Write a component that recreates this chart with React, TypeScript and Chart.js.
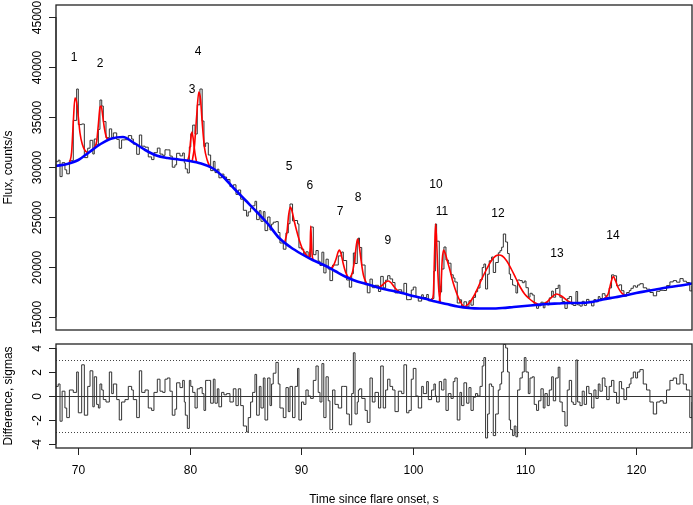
import React, { useEffect, useRef } from 'react';
import { Chart, registerables } from 'chart.js';

Chart.register(...registerables);

// ---- Observed light curve (time, flux) and normalised residuals ----
const obsTime = [
  68.0, 68.2, 68.36, 68.55, 68.8, 68.96, 69.2, 69.55, 69.85, 70.0, 70.3, 70.54, 70.84, 71.05, 71.3, 71.43, 71.64, 71.8, 71.94, 72.1,
  72.24, 72.48, 72.78, 72.99, 73.14, 73.44, 73.67, 73.88, 74.18, 74.48, 74.78, 74.93, 75.23, 75.47, 75.68, 75.98, 76.27, 76.57, 76.78, 77.08,
  77.32, 77.56, 77.77, 77.98, 78.21, 78.42, 78.66, 78.81, 79.11, 79.35, 79.5, 79.59, 79.77, 79.95, 80.08, 80.25, 80.46, 80.66, 80.9, 81.1,
  81.26, 81.41, 81.65, 81.86, 82.1, 82.25, 82.46, 82.6, 82.84, 83.05, 83.29, 83.59, 83.89, 84.13, 84.34, 84.55, 84.79, 85.08, 85.23, 85.44,
  85.62, 85.83, 85.98, 86.22, 86.37, 86.58, 86.73, 86.97, 87.18, 87.32, 87.47, 87.71, 87.92, 88.07, 88.37, 88.61, 88.82, 88.97, 89.2, 89.42,
  89.65, 89.77, 90.0, 90.2, 90.4, 90.6, 90.82, 91.06, 91.3, 91.5, 91.66, 91.83, 92.0, 92.2, 92.4, 92.55, 92.79, 93.0, 93.3, 93.6,
  93.75, 94.05, 94.29, 94.5, 94.65, 94.8, 95.0, 95.1, 95.2, 95.4, 95.7, 95.9, 96.14, 96.35, 96.59, 96.9, 97.1, 97.33, 97.54, 97.72,
  97.93, 98.17, 98.38, 98.68, 98.98, 99.18, 99.42, 99.63, 99.84, 100.02, 100.26, 100.47, 100.77, 100.92, 101.22, 101.37, 101.66, 101.87, 102.0, 102.11,
  102.35, 102.56, 102.77, 102.95, 103.16, 103.4, 103.6, 103.75, 103.96, 104.2, 104.35, 104.56, 104.8, 105.01, 105.19, 105.4, 105.6, 105.79, 106.0, 106.2,
  106.35, 106.5, 106.68, 106.83, 107.04, 107.19, 107.4, 107.64, 107.79, 107.94, 108.09, 108.3, 108.47, 108.62, 108.74, 108.92, 109.07, 109.22, 109.37, 109.58,
  109.79, 109.97, 110.12, 110.33, 110.48, 110.68, 110.86, 111.07, 111.25, 111.46, 111.67, 111.82, 112.03, 112.21, 112.42, 112.57, 112.78, 113.01, 113.16, 113.37,
  113.61, 113.82, 114.0, 114.21, 114.36, 114.6, 114.75, 114.96, 115.16, 115.34, 115.55, 115.76, 116.0, 116.21, 116.39, 116.6, 116.75, 116.96, 117.2, 117.35,
  117.58, 117.79, 118.0, 118.24, 118.48, 118.69, 118.9, 119.14, 119.38, 119.53, 119.74, 119.95, 120.12, 120.33, 120.63, 120.93, 121.23, 121.53, 121.83, 122.13,
  122.42, 122.72, 123.02, 123.32, 123.62, 123.92, 124.21, 124.5, 124.8, 125.0,
];

const obsFlux = [
  30530, 30680, 29040, 30430, 29720, 29320, 30630, 34660, 37800, 34240, 34300, 30940, 31880, 32670, 31300, 32800, 32220, 33760, 36700, 36100,
  34540, 32930, 33810, 32960, 33410, 32760, 31870, 32710, 32730, 33140, 32800, 32280, 31270, 33200, 32080, 31980, 31010, 30740, 31430, 31890,
  31290, 31170, 31720, 31710, 31090, 29980, 30210, 31370, 31110, 31400, 30410, 29810, 29400, 32010, 33330, 34190, 33300, 36220, 37800, 34600,
  32050, 32400, 31200, 29640, 30560, 29440, 29780, 28920, 29290, 29000, 28750, 28040, 28220, 27260, 27700, 26780, 25670, 25090, 25510, 25920,
  26120, 26570, 24740, 25630, 24570, 25540, 23640, 25000, 23700, 24290, 24480, 24540, 23450, 22400, 21780, 23410, 24330, 26300, 24610, 24650,
  24310, 21920, 21780, 21290, 21520, 21000, 24000, 21230, 21650, 20580, 20150, 21480, 19410, 20780, 19790, 18640, 20200, 20200, 21110, 21500,
  20650, 18700, 17980, 19330, 21400, 20350, 22500, 22900, 21950, 20200, 18230, 17420, 18790, 17930, 18170, 17550, 19060, 17910, 18680, 19130,
  18810, 18450, 17410, 17720, 17480, 18360, 16730, 16740, 17700, 17990, 17030, 16590, 17220, 16950, 17250, 16620, 16850, 19600, 24300, 22580,
  17500, 19800, 22000, 20700, 20380, 19220, 18900, 18500, 16400, 16720, 16040, 16520, 16020, 16620, 16180, 16960, 17530, 17900, 18730, 19950,
  20300, 17800, 19280, 20620, 21000, 19450, 20450, 21420, 21630, 21980, 23300, 22500, 21350, 19300, 18750, 18200, 18130, 17400, 18700, 18640,
  18430, 18600, 17930, 16980, 17370, 17200, 16180, 15870, 16120, 16480, 15920, 16460, 16210, 16910, 17590, 16980, 17850, 18180, 16980, 16550,
  15860, 16840, 17050, 16270, 16150, 17550, 16210, 16090, 16570, 16160, 16760, 16560, 16110, 16740, 16520, 17040, 16850, 17330, 17110, 16930,
  17910, 19210, 19120, 18120, 18220, 17630, 17080, 17450, 17640, 17870, 18120, 17980, 18200, 18330, 17920, 17780, 17450, 17120, 17570, 17670,
  17650, 18140, 18510, 18640, 18480, 18840, 18580, 18450, 17610, 18150,
];

const residSigma = [
  0.8, 1.0, -2.1, 0.4, -1.0, -1.8, 0.5, 0.3, 2.0, -1.4, 2.6, -1.6, 0.8, 2.1, -0.9, 1.6, -0.7, -1.0, 1.0, 0.5,
  -0.3, -0.5, 2.0, 0.2, 1.0, -0.3, -2.0, -0.5, -0.3, 0.8, 0.5, -0.3, -1.8, 2.1, 0.3, 0.5, -1.0, -1.2, 0.3, 1.4,
  0.4, 0.3, 1.4, 1.5, 0.4, -1.6, -1.1, 1.1, 0.7, 1.3, -0.5, -1.6, -2.7, 1.3, 0.8, 0.3, -1.0, 0.6, 0.7, 0.2,
  -1.2, 1.3, 1.3, -0.6, 1.4, -0.6, 0.6, -0.9, 0.3, 0.1, 0.2, -0.5, 0.6, -0.8, 0.6, -0.8, -2.5, -3.0, -1.8, -0.5,
  0.3, 1.8, -1.6, 0.8, -1.0, 1.5, -2.0, 1.5, -0.8, 1.0, 1.9, 2.8, 1.0, -1.0, -1.8, 0.7, -1.3, 0.8, -1.8, 0.8,
  2.3, -2.0, -0.5, -0.7, 0.5, 0.0, -0.2, 1.3, 2.5, 0.3, -0.5, 2.7, -1.8, 1.6, -0.4, -2.8, 0.5, -0.7, -1.0, 0.8,
  0.8, -1.5, -2.4, 0.2, 3.6, -1.5, -0.5, 0.5, 0.6, -0.2, -1.2, -2.2, 1.5, -0.5, 0.3, -1.0, 2.5, -1.0, 0.5, 1.4,
  0.8, 0.5, -1.3, 0.4, 0.2, 2.6, -1.4, -1.2, 1.4, 2.3, 0.0, -1.0, 0.8, 0.2, 1.2, -0.3, 0.5, 1.0, 0.0, -0.5,
  1.2, 0.5, 1.4, -1.2, 0.2, -0.2, 1.2, 1.5, -2.0, 0.3, -0.8, 1.1, -0.6, 0.7, -1.2, -0.1, 0.2, 0.0, 0.8, 2.5,
  3.2, -3.5, -1.5, 1.0, 0.8, -3.3, -1.5, 0.5, 1.0, 2.0, 4.3, 4.0, 2.0, -2.0, -2.8, -3.3, -2.5, -3.4, 0.5, 1.5,
  2.0, 3.2, 2.0, 0.2, 1.5, 1.6, -0.7, -1.2, -0.4, 0.6, -1.0, 0.2, -0.8, 0.5, 1.6, -0.4, 1.5, 2.4, -0.5, -1.3,
  -2.5, 0.5, 1.3, -0.5, -0.7, 3.0, -0.5, -0.8, 0.4, -0.7, 0.8, 0.2, -1.0, 0.5, -0.2, 1.0, 0.4, 1.5, 0.8, -0.3,
  0.8, 1.3, 0.3, -0.6, 1.2, 0.6, -0.3, 0.7, 1.0, 1.5, 2.0, 1.5, 2.0, 2.2, 1.0, 0.5, -0.5, -1.5, -0.5, -0.4,
  -0.6, 0.5, 1.3, 1.5, 1.0, 1.8, 1.0, 0.5, -1.8, -0.5,
];

// ---- Smooth background (blue) ----
const bgTime = [
  68, 69, 70, 71, 72, 73, 74, 75, 76, 77, 78, 79, 80, 81, 82, 83, 84, 85, 86, 87, 88, 89, 90, 91, 92, 93, 94, 95, 96,
  97, 98, 99, 100, 101, 102, 103, 104, 105, 106, 107, 108, 109, 110, 111, 112, 113, 114, 115, 116, 117, 118, 119, 120, 121, 122, 123, 124, 125,
];
const bgFlux = [
  30100, 30300, 30700, 31500, 32300, 32850, 33000, 32400, 31700, 31150, 30900, 30750, 30600, 30350, 29900, 29000, 27800, 26650, 25500, 24300, 22900, 22000, 21300, 20700, 20200, 19600, 19000, 18550, 18250,
  17900, 17650, 17400, 17100, 16850, 16550, 16300, 16050, 15900, 15850, 15850, 15900, 16000, 16100, 16200, 16300, 16350, 16400, 16400, 16500, 16750, 16950, 17150, 17400, 17600, 17800, 18000, 18150, 18350,
];

// ---- Individual peak fits (red), background + one component each ----
const peakFitTime = [
  [69.2, 69.4, 69.55, 69.7, 69.85, 70.0, 70.15, 70.35, 70.6, 70.85],
  [71.4, 71.65, 71.8, 71.95, 72.05, 72.2, 72.35, 72.55, 72.8],
  [79.8, 79.95, 80.08, 80.18, 80.3, 80.45, 80.6],
  [80.2, 80.4, 80.6, 80.8, 80.95, 81.1, 81.3, 81.55, 81.8],
  [88.5, 88.7, 88.85, 89.0, 89.15, 89.35, 89.55, 89.8, 90.05, 90.3, 90.6],
  [90.7, 90.78, 90.83, 90.88, 90.95, 91.05],
  [92.6, 92.85, 93.1, 93.3, 93.4, 93.55, 93.75, 93.95, 94.2],
  [94.3, 94.55, 94.75, 94.92, 95.03, 95.15, 95.35, 95.55, 95.85],
  [96.9, 97.2, 97.5, 97.78, 98.05, 98.35, 98.7, 99.0],
  [101.65, 101.82, 101.93, 102.02, 102.1, 102.2, 102.32, 102.45],
  [102.35, 102.5, 102.62, 102.74, 102.9, 103.1, 103.3, 103.6, 103.9, 104.2, 104.5, 104.8],
  [104.6, 105.0, 105.4, 105.8, 106.2, 106.6, 107.0, 107.4, 107.7, 108.0, 108.4, 108.8, 109.2, 109.6, 110.0, 110.4, 110.8, 111.2],
  [111.6, 112.0, 112.4, 112.85, 113.3, 113.7, 114.1, 114.5],
  [117.0, 117.25, 117.5, 117.75, 117.95, 118.15, 118.4, 118.7, 119.0],
];
const peakFitFlux = [
  [30350, 31500, 34500, 36900, 36500, 35000, 33400, 32300, 31650, 31400],
  [31850, 32600, 34300, 36000, 36100, 35000, 33800, 32900, 32750],
  [30630, 31300, 32800, 33500, 32800, 31400, 30470],
  [30550, 32000, 35000, 37500, 36800, 34500, 32000, 30700, 30000],
  [22450, 23500, 25200, 26000, 25600, 24600, 23700, 22700, 21900, 21400, 20950],
  [20880, 22000, 24100, 23000, 21300, 20670],
  [19840, 20100, 20800, 21550, 21700, 21300, 20300, 19500, 18910],
  [18870, 19400, 20600, 22200, 22800, 22300, 20600, 19200, 18300],
  [17935, 18150, 18450, 18600, 18400, 17950, 17550, 17400],
  [16650, 17300, 21500, 24300, 23000, 20000, 17500, 16450],
  [16460, 18200, 20800, 21700, 21300, 20500, 19700, 18400, 17400, 16600, 16100, 15950],
  [15960, 16350, 17000, 17900, 18900, 19800, 20600, 21100, 21200, 21100, 20600, 19800, 18900, 18000, 17300, 16850, 16500, 16280],
  [16260, 16500, 16950, 17300, 17100, 16750, 16480, 16400],
  [16750, 16950, 17350, 18500, 19050, 18600, 17900, 17400, 17150],
];

// ---- Peak number labels ----
const peakNames = ['1', '2', '3', '4', '5', '6', '7', '8', '9', '10', '11', '12', '13', '14'];
const peakLabelTime = [69.61, 71.94, 80.19, 80.73, 88.88, 90.76, 93.45, 95.07, 97.75, 102.06, 102.59, 107.61, 112.9, 117.92];
const peakLabelFlux = [41000, 40400, 37800, 41600, 30100, 28200, 25600, 27000, 22700, 28300, 25600, 25400, 21400, 23200];

// ---- Axes ----
const fluxTicks = [15000, 20000, 25000, 30000, 35000, 40000, 45000];
const sigmaTicks = [-4, -2, 0, 2, 4];
const timeTicks = [70, 80, 90, 100, 110, 120];
const solidRefLevels = [0];
const dottedRefLevels = [-3, 3];

const FONT = '12px "Liberation Sans", Arial, Helvetica, sans-serif';
const AXIS_COLOR = '#222';

function drawBox(ctx: CanvasRenderingContext2D, a: any) {
  ctx.save();
  ctx.strokeStyle = AXIS_COLOR;
  ctx.lineWidth = 1.3;
  ctx.strokeRect(a.left, a.top, a.right - a.left, a.bottom - a.top);
  ctx.restore();
}

function drawYAxis(ctx: CanvasRenderingContext2D, chart: any, ticks: number[], title: string) {
  const a = chart.chartArea;
  const ys = chart.scales.y;
  ctx.save();
  ctx.strokeStyle = AXIS_COLOR;
  ctx.fillStyle = '#000';
  ctx.lineWidth = 1;
  ctx.font = FONT;
  const y0 = ys.getPixelForValue(ticks[0]);
  const y1 = ys.getPixelForValue(ticks[ticks.length - 1]);
  ctx.beginPath();
  ctx.moveTo(a.left, y0);
  ctx.lineTo(a.left, y1);
  ctx.stroke();
  ticks.forEach((v) => {
    const y = Math.round(ys.getPixelForValue(v)) + 0.5;
    ctx.beginPath();
    ctx.moveTo(a.left - 7, y);
    ctx.lineTo(a.left, y);
    ctx.stroke();
    ctx.save();
    ctx.translate(40.5, y);
    ctx.rotate(-Math.PI / 2);
    ctx.textAlign = 'center';
    ctx.textBaseline = 'alphabetic';
    ctx.fillText(String(v), 0, 0);
    ctx.restore();
  });
  ctx.save();
  ctx.translate(12, (a.top + a.bottom) / 2);
  ctx.rotate(-Math.PI / 2);
  ctx.textAlign = 'center';
  ctx.textBaseline = 'alphabetic';
  ctx.fillText(title, 0, 0);
  ctx.restore();
  ctx.restore();
}

const topPlugin = {
  id: 'topDecor',
  afterDraw(chart: any) {
    const ctx = chart.ctx as CanvasRenderingContext2D;
    drawBox(ctx, chart.chartArea);
    drawYAxis(ctx, chart, fluxTicks, 'Flux, counts/s');
    ctx.save();
    ctx.font = FONT;
    ctx.fillStyle = '#000';
    ctx.textAlign = 'center';
    ctx.textBaseline = 'alphabetic';
    peakNames.forEach((name, i) => {
      const x = chart.scales.x.getPixelForValue(peakLabelTime[i]);
      const y = chart.scales.y.getPixelForValue(peakLabelFlux[i]);
      ctx.fillText(name, x, y + 4.3);
    });
    ctx.restore();
  },
};

const bottomPlugin = {
  id: 'bottomDecor',
  beforeDatasetsDraw(chart: any) {
    const ctx = chart.ctx as CanvasRenderingContext2D;
    const a = chart.chartArea;
    const ys = chart.scales.y;
    ctx.save();
    ctx.strokeStyle = '#333';
    ctx.lineWidth = 1;
    solidRefLevels.forEach((v) => {
      const y = Math.round(ys.getPixelForValue(v)) + 0.5;
      ctx.beginPath();
      ctx.moveTo(a.left, y);
      ctx.lineTo(a.right, y);
      ctx.stroke();
    });
    ctx.setLineDash([1, 2]);
    ctx.strokeStyle = '#444';
    dottedRefLevels.forEach((v) => {
      const y = Math.round(ys.getPixelForValue(v)) + 0.5;
      ctx.beginPath();
      ctx.moveTo(a.left, y);
      ctx.lineTo(a.right, y);
      ctx.stroke();
    });
    ctx.restore();
  },
  afterDraw(chart: any) {
    const ctx = chart.ctx as CanvasRenderingContext2D;
    const a = chart.chartArea;
    drawBox(ctx, a);
    drawYAxis(ctx, chart, sigmaTicks, 'Difference, sigmas');
    const xs = chart.scales.x;
    ctx.save();
    ctx.strokeStyle = AXIS_COLOR;
    ctx.fillStyle = '#000';
    ctx.lineWidth = 1;
    ctx.font = FONT;
    ctx.textAlign = 'center';
    ctx.textBaseline = 'alphabetic';
    timeTicks.forEach((v) => {
      const x = Math.round(xs.getPixelForValue(v)) + 0.5;
      ctx.beginPath();
      ctx.moveTo(x, a.bottom);
      ctx.lineTo(x, a.bottom + 7);
      ctx.stroke();
      ctx.fillText(String(v), x, a.bottom + 26);
    });
    ctx.fillText('Time since flare onset, s', (a.left + a.right) / 2, a.bottom + 55);
    ctx.restore();
  },
};

export default function App() {
  const topRef = useRef<HTMLCanvasElement | null>(null);
  const botRef = useRef<HTMLCanvasElement | null>(null);

  useEffect(() => {
    if (!topRef.current || !botRef.current) return;

    const obsData = obsTime.map((t, i) => ({ x: t, y: obsFlux[i] }));
    const bgData = bgTime.map((t, i) => ({ x: t, y: bgFlux[i] }));
    const residData = obsTime.map((t, i) => ({ x: t, y: residSigma[i] }));

    const peakSets = peakFitTime.map((ts, k) => ({
      data: ts.map((t, i) => ({ x: t, y: peakFitFlux[k][i] })),
      borderColor: '#ff0000',
      borderWidth: 1.6,
      pointRadius: 0,
      cubicInterpolationMode: 'monotone' as const,
      fill: false,
      order: 1,
    }));

    const top = new Chart(topRef.current, {
      type: 'line',
      data: {
        datasets: [
          {
            data: bgData,
            borderColor: '#0000ff',
            borderWidth: 2.6,
            pointRadius: 0,
            cubicInterpolationMode: 'monotone',
            fill: false,
            order: 0,
          },
          ...peakSets,
          {
            data: obsData,
            borderColor: '#333333',
            borderWidth: 1,
            pointRadius: 0,
            stepped: true,
            fill: false,
            order: 2,
          },
        ] as any,
      },
      options: {
        animation: false,
        responsive: false,
        devicePixelRatio: 1,
        events: [],
        layout: { padding: { left: 56, top: 5, right: 1, bottom: 10 } },
        plugins: { legend: { display: false }, tooltip: { enabled: false } },
        scales: {
          x: { type: 'linear', min: 68, max: 125, display: false },
          y: { type: 'linear', min: 13700, max: 46200, display: false },
        },
      },
      plugins: [topPlugin],
    });

    const bottom = new Chart(botRef.current, {
      type: 'line',
      data: {
        datasets: [
          {
            data: residData,
            borderColor: '#333333',
            borderWidth: 1,
            pointRadius: 0,
            stepped: true,
            fill: false,
          },
        ],
      },
      options: {
        animation: false,
        responsive: false,
        devicePixelRatio: 1,
        events: [],
        layout: { padding: { left: 56, top: 4, right: 1, bottom: 57 } },
        plugins: { legend: { display: false }, tooltip: { enabled: false } },
        scales: {
          x: { type: 'linear', min: 68, max: 125, display: false },
          y: { type: 'linear', min: -4.333, max: 4.333, display: false },
        },
      },
      plugins: [bottomPlugin],
    });

    return () => {
      top.destroy();
      bottom.destroy();
    };
  }, []);

  return (
    <div style={{ position: 'fixed', left: 0, top: 0, width: 693, height: 505, background: '#fff' }}>
      <canvas
        ref={topRef}
        width={693}
        height={340}
        style={{ position: 'absolute', left: 0, top: 0, width: 693, height: 340 }}
      />
      <canvas
        ref={botRef}
        width={693}
        height={165}
        style={{ position: 'absolute', left: 0, top: 340, width: 693, height: 165 }}
      />
    </div>
  );
}
